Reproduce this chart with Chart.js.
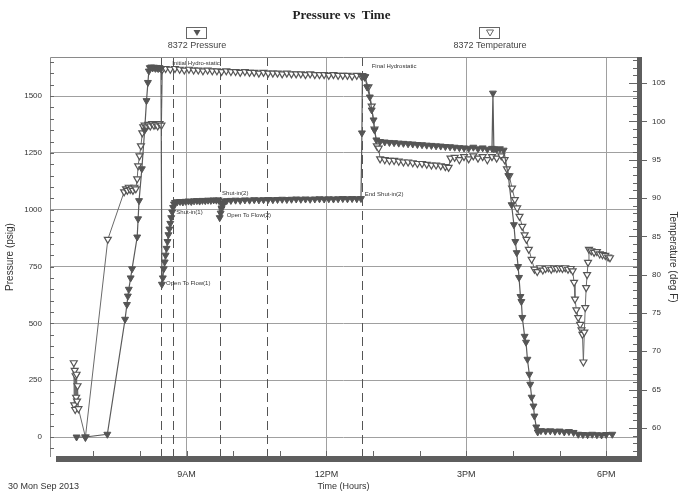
<!DOCTYPE html>
<html>
<head>
<meta charset="utf-8">
<title>Pressure vs Time</title>
<script src="https://cdn.jsdelivr.net/npm/chart.js@4.4.0/dist/chart.umd.min.js"></script>
<style>
  html, body { margin: 0; padding: 0; background: #fff; }
  canvas { display: block; }
</style>
</head>
<body>
<canvas id="grafico" width="683" height="496"></canvas>
<script>
// [hours since midnight, psig]
const pressureSeries = [
  [6.64, 0], [6.83, 0], [7.30, 12], [7.68, 518], [7.72, 583], [7.74, 620], [7.76, 650], [7.80, 700],
  [7.83, 740], [7.94, 880], [7.96, 960], [7.98, 1040], [8.04, 1180], [8.10, 1350], [8.14, 1480],
  [8.17, 1560], [8.19, 1610], [8.21, 1625],
  [8.24, 1628], [8.27, 1624], [8.30, 1627], [8.33, 1622], [8.36, 1626], [8.39, 1621], [8.42, 1625], [8.45, 1620],
  [8.47, 672], [8.49, 700], [8.51, 740], [8.53, 770], [8.55, 800], [8.57, 830], [8.59, 860], [8.61, 890],
  [8.63, 915], [8.65, 940], [8.67, 965], [8.69, 990], [8.71, 1010], [8.73, 1025], [8.75, 1032],
  [8.80, 1035], [8.86, 1036], [8.92, 1034], [8.98, 1037], [9.04, 1038], [9.10, 1036], [9.16, 1039],
  [9.22, 1040], [9.28, 1038], [9.34, 1041], [9.40, 1040], [9.46, 1042], [9.52, 1041], [9.58, 1043],
  [9.64, 1042], [9.69, 1043],
  [9.71, 965], [9.73, 985], [9.75, 1005], [9.77, 1020], [9.79, 1030], [9.82, 1036], [9.86, 1040],
  [9.95, 1041], [10.05, 1042], [10.15, 1041], [10.25, 1043], [10.35, 1042], [10.45, 1044], [10.55, 1043],
  [10.65, 1044], [10.75, 1045], [10.85, 1044], [10.95, 1045], [11.05, 1046], [11.15, 1045], [11.25, 1046],
  [11.35, 1047], [11.45, 1046], [11.55, 1047], [11.65, 1046], [11.75, 1047], [11.85, 1048], [11.95, 1047],
  [12.05, 1048], [12.15, 1047], [12.25, 1048], [12.35, 1049], [12.45, 1048], [12.55, 1049], [12.65, 1048],
  [12.74, 1049],
  [12.76, 1338], [12.77, 1590], [12.80, 1588], [12.83, 1585], [12.87, 1540], [12.93, 1496], [12.97, 1439],
  [13.01, 1395], [13.03, 1351], [13.07, 1307],
  [13.15, 1300], [13.25, 1298], [13.35, 1296], [13.45, 1295], [13.55, 1293], [13.65, 1292], [13.75, 1290],
  [13.85, 1289], [13.95, 1287], [14.05, 1286], [14.15, 1284], [14.25, 1283], [14.35, 1281], [14.45, 1280],
  [14.55, 1278], [14.65, 1277], [14.75, 1275], [14.85, 1273], [14.95, 1272], [15.05, 1270], [15.15, 1275],
  [15.25, 1268], [15.35, 1272], [15.45, 1266], [15.55, 1270], [15.57, 1513], [15.59, 1268], [15.65, 1265],
  [15.72, 1268], [15.80, 1262],
  [15.90, 1150], [15.97, 1022], [16.02, 934], [16.05, 860], [16.08, 811], [16.11, 750], [16.13, 702],
  [16.16, 618], [16.18, 596], [16.20, 526], [16.25, 443], [16.28, 417], [16.31, 342], [16.35, 276],
  [16.37, 232], [16.40, 175], [16.44, 136], [16.46, 92], [16.50, 44], [16.53, 22],
  [16.60, 28], [16.70, 26], [16.80, 27], [16.90, 25], [17.00, 26], [17.10, 22], [17.20, 24], [17.30, 20],
  [17.40, 12], [17.50, 11], [17.60, 10], [17.70, 12], [17.80, 10], [17.90, 9], [18.00, 11], [18.13, 12]
];

// [hours since midnight, deg F]
const temperatureSeries = [
  [6.58, 68.5], [6.59, 63.0], [6.60, 67.5], [6.61, 62.4], [6.62, 66.8], [6.63, 64.0], [6.64, 67.0],
  [6.65, 63.5], [6.66, 65.5], [6.68, 62.5],
  [6.83, 58.8], [7.31, 84.6], [7.66, 90.8],
  [7.70, 91.2], [7.73, 91.0], [7.76, 91.4], [7.79, 91.1], [7.82, 91.3], [7.85, 91.0], [7.88, 91.4], [7.91, 91.2],
  [7.94, 92.5], [7.96, 94.2], [7.99, 95.5], [8.02, 96.8], [8.05, 98.5], [8.07, 99.3],
  [8.10, 99.5], [8.14, 99.3], [8.18, 99.6], [8.22, 99.4], [8.26, 99.7], [8.30, 99.5], [8.34, 99.6],
  [8.38, 99.4], [8.42, 99.7], [8.46, 99.5],
  [8.48, 106.8], [8.55, 106.9], [8.65, 106.8], [8.75, 106.9], [8.85, 106.8], [8.95, 106.7], [9.05, 106.8],
  [9.15, 106.7], [9.25, 106.7], [9.35, 106.6], [9.45, 106.7], [9.55, 106.6], [9.65, 106.6], [9.75, 106.5],
  [9.85, 106.6], [9.95, 106.5], [10.05, 106.5], [10.15, 106.4], [10.25, 106.5], [10.35, 106.4], [10.45, 106.4],
  [10.55, 106.3], [10.65, 106.4], [10.75, 106.3], [10.85, 106.3], [10.95, 106.3], [11.05, 106.2], [11.15, 106.3],
  [11.25, 106.2], [11.35, 106.2], [11.45, 106.2], [11.55, 106.1], [11.65, 106.2], [11.75, 106.1], [11.85, 106.1],
  [11.95, 106.1], [12.05, 106.0], [12.15, 106.1], [12.25, 106.0], [12.35, 106.0], [12.45, 106.0], [12.55, 105.9],
  [12.65, 106.0], [12.75, 105.9],
  [12.82, 105.8], [12.90, 104.5], [12.97, 102.0], [13.03, 99.0], [13.08, 96.8], [13.12, 96.5],
  [13.15, 95.1], [13.25, 95.0], [13.35, 94.9], [13.45, 94.9], [13.55, 94.8], [13.65, 94.7], [13.75, 94.7],
  [13.85, 94.6], [13.95, 94.5], [14.05, 94.5], [14.15, 94.4], [14.25, 94.3], [14.35, 94.3], [14.45, 94.2],
  [14.55, 94.1], [14.62, 94.0], [14.66, 95.2], [14.75, 95.3], [14.85, 95.0], [14.95, 95.4], [15.05, 95.1],
  [15.15, 95.5], [15.25, 95.2], [15.35, 95.4], [15.45, 95.0], [15.55, 95.4], [15.65, 95.2], [15.75, 95.5],
  [15.82, 95.0],
  [15.87, 93.8], [15.92, 92.9], [15.98, 91.3], [16.04, 89.8], [16.09, 88.7], [16.14, 87.6], [16.20, 86.3],
  [16.25, 85.2], [16.29, 84.6], [16.34, 83.3], [16.40, 82.0], [16.46, 80.7],
  [16.52, 80.4], [16.58, 80.9], [16.64, 80.6], [16.70, 80.8], [16.76, 80.9], [16.82, 80.7], [16.88, 80.9],
  [16.94, 80.8], [17.00, 80.9], [17.06, 80.8], [17.12, 80.9], [17.18, 80.7], [17.24, 80.8], [17.28, 80.5],
  [17.31, 79.0], [17.33, 76.8], [17.36, 75.4], [17.40, 74.4], [17.44, 73.5], [17.47, 72.8], [17.49, 72.2],
  [17.51, 68.6], [17.53, 72.5], [17.55, 75.7], [17.57, 78.3], [17.59, 80.0], [17.61, 81.6], [17.63, 83.3],
  [17.68, 83.1], [17.74, 82.9], [17.80, 83.0], [17.86, 82.7], [17.92, 82.6], [17.98, 82.5], [18.04, 82.3],
  [18.08, 82.2]
];

const hourTicks = [7, 8, 9, 10, 11, 12, 13, 14, 15, 16, 17, 18];
const xLabelHours = [9, 12, 15, 18];
const xLabels = ['9AM', '12PM', '3PM', '6PM'];
const pressureTicks = [0, 250, 500, 750, 1000, 1250, 1500];
const temperatureTicks = [60, 65, 70, 75, 80, 85, 90, 95, 100, 105];

// dashed event lines (hours)
const eventHours = [8.46, 8.71, 9.71, 10.73, 12.77];
// event notes: text, hour, psig
const eventNotes = [
  ['Initial Hydro-static', 8.69, 1645],
  ['Open To Flow(1)', 8.56, 678],
  ['Shut-in(1)', 8.78, 990],
  ['Shut-in(2)', 9.76, 1072],
  ['Open To Flow(2)', 9.86, 975],
  ['End Shut-in(2)', 12.82, 1068],
  ['Final Hydrostatic', 12.97, 1632]
];

const fuente = '"Liberation Sans", Arial, sans-serif';

const decor = {
  id: 'decor',
  beforeDatasetsDraw(chart) {
    const { ctx, chartArea: a, scales } = chart;
    ctx.save();
    ctx.strokeStyle = '#555';
    ctx.lineWidth = 1;
    ctx.setLineDash([9, 5]);
    eventHours.forEach(h => {
      const x = Math.round(scales.x.getPixelForValue(h)) + 0.5;
      ctx.beginPath();
      ctx.moveTo(x, a.top);
      ctx.lineTo(x, a.bottom);
      ctx.stroke();
    });
    ctx.restore();
  },
  afterDatasetsDraw(chart) {
    const { ctx, chartArea: a, scales } = chart;
    ctx.save();

    // frame
    ctx.strokeStyle = '#8a8a8a';
    ctx.lineWidth = 1;
    ctx.beginPath();
    ctx.moveTo(a.left + 0.5, a.bottom);
    ctx.lineTo(a.left + 0.5, a.top + 0.5);
    ctx.lineTo(a.right, a.top + 0.5);
    ctx.stroke();
    ctx.fillStyle = '#5e5e5e';
    ctx.fillRect(a.left + 6, a.bottom - 1, a.right - a.left - 1, 6);
    ctx.fillRect(a.right, a.top, 5, a.bottom - a.top + 5);

    // minor ticks
    ctx.strokeStyle = '#666';
    ctx.beginPath();
    for (let p = -50; p <= 1650; p += 50) {
      const y = Math.round(scales.y.getPixelForValue(p)) + 0.5;
      ctx.moveTo(a.left, y);
      ctx.lineTo(a.left + 4, y);
    }
    for (let t = 57; t <= 108; t++) {
      const y = Math.round(scales.y1.getPixelForValue(t)) + 0.5;
      const len = t % 5 === 0 ? 8 : 4;
      ctx.moveTo(a.right - len, y);
      ctx.lineTo(a.right, y);
      if (t % 5 === 0) {
        ctx.moveTo(a.right + 5, y);
        ctx.lineTo(a.right + 10, y);
      }
    }
    hourTicks.forEach(h => {
      const x = Math.round(scales.x.getPixelForValue(h)) + 0.5;
      ctx.moveTo(x, a.bottom - 6);
      ctx.lineTo(x, a.bottom);
    });
    ctx.stroke();

    // event notes
    ctx.fillStyle = '#333';
    ctx.font = '6px ' + fuente;
    ctx.textAlign = 'left';
    ctx.textBaseline = 'middle';
    eventNotes.forEach(([txt, h, p]) => {
      ctx.fillText(txt, scales.x.getPixelForValue(h), scales.y.getPixelForValue(p));
    });

    // legend boxes
    const clave = (cx, label, relleno) => {
      ctx.strokeStyle = '#666';
      ctx.lineWidth = 1;
      ctx.strokeRect(cx - 10.5, 27.5, 20, 11);
      ctx.beginPath();
      ctx.moveTo(cx - 3.5, 30);
      ctx.lineTo(cx + 3.5, 30);
      ctx.lineTo(cx, 36);
      ctx.closePath();
      if (relleno) { ctx.fillStyle = '#555'; ctx.fill(); }
      else { ctx.fillStyle = '#fff'; ctx.fill(); ctx.stroke(); }
      ctx.fillStyle = '#444';
      ctx.font = '9px ' + fuente;
      ctx.textAlign = 'center';
      ctx.fillText(label, cx, 46);
    };
    clave(197, '8372 Pressure', true);
    clave(490, '8372 Temperature', false);

    // date stamp
    ctx.fillStyle = '#333';
    ctx.font = '9px ' + fuente;
    ctx.textAlign = 'left';
    ctx.fillText('30 Mon Sep 2013', 8, 487);
    ctx.restore();
  }
};

const ctx = document.getElementById('grafico').getContext('2d');
const chart = new Chart(ctx, {
  type: 'line',
  data: {
    datasets: [
      {
        label: '8372 Pressure',
        data: pressureSeries.map(([h, p]) => ({ x: h, y: p })),
        yAxisID: 'y',
        borderColor: '#5a5a5a',
        borderWidth: 1.2,
        pointStyle: 'triangle',
        rotation: 180,
        pointRadius: 4,
        pointBackgroundColor: '#555',
        pointBorderColor: '#555',
        pointBorderWidth: 1,
        tension: 0
      },
      {
        label: '8372 Temperature',
        data: temperatureSeries.map(([h, t]) => ({ x: h, y: t })),
        yAxisID: 'y1',
        borderColor: '#6a6a6a',
        borderWidth: 1,
        pointStyle: 'triangle',
        rotation: 180,
        pointRadius: 4,
        pointBackgroundColor: '#fff',
        pointBorderColor: '#555',
        pointBorderWidth: 1.2,
        tension: 0
      }
    ]
  },
  options: {
    responsive: false,
    animation: false,
    devicePixelRatio: 1,
    layout: { padding: 0 },
    plugins: {
      legend: { display: false },
      tooltip: { enabled: false },
      title: {
        display: true,
        text: 'Pressure vs  Time',
        color: '#222',
        font: { family: '"Liberation Serif", "Times New Roman", serif', size: 13, weight: 'bold' },
        padding: { top: 8, bottom: 33.4 }
      }
    },
    scales: {
      x: {
        type: 'linear',
        min: 6.07,
        max: 18.66,
        afterBuildTicks: s => { s.ticks = hourTicks.map(v => ({ value: v })); },
        afterFit: s => { s.height = 39; },
        ticks: {
          autoSkip: false,
          maxRotation: 0,
          padding: 12,
          color: '#333',
          font: { family: fuente, size: 9 },
          callback: v => {
            const i = xLabelHours.indexOf(v);
            return i >= 0 ? xLabels[i] : '';
          }
        },
        grid: {
          drawTicks: false,
          color: c => (c.tick && xLabelHours.includes(c.tick.value)) ? '#a0a0a0' : 'rgba(0,0,0,0)'
        },
        border: { display: false },
        title: { display: true, text: 'Time (Hours)', color: '#333', font: { family: fuente, size: 9 }, padding: { top: 0, bottom: 4 } }
      },
      y: {
        position: 'left',
        min: -88,
        max: 1672,
        afterBuildTicks: s => { s.ticks = pressureTicks.map(v => ({ value: v })); },
        afterFit: s => { s.width = 50; },
        ticks: { padding: 8, color: '#333', font: { family: fuente, size: 8 }, callback: v => String(v) },
        grid: { drawTicks: false, color: '#a0a0a0' },
        border: { display: false },
        title: { display: true, text: 'Pressure (psig)', color: '#333', font: { family: fuente, size: 10 }, padding: { top: 4, bottom: 4 } }
      },
      y1: {
        position: 'right',
        min: 56.2,
        max: 108.4,
        afterBuildTicks: s => { s.ticks = temperatureTicks.map(v => ({ value: v })); },
        afterFit: s => { s.width = 46; },
        ticks: { padding: 15, color: '#333', font: { family: fuente, size: 8 }, callback: v => String(v) },
        grid: { drawTicks: false, drawOnChartArea: false },
        border: { display: false },
        title: { display: true, text: 'Temperature (deg F)', color: '#333', font: { family: fuente, size: 10 }, padding: { top: 4, bottom: 4 } }
      }
    }
  },
  plugins: [decor]
});
</script>
</body>
</html>
